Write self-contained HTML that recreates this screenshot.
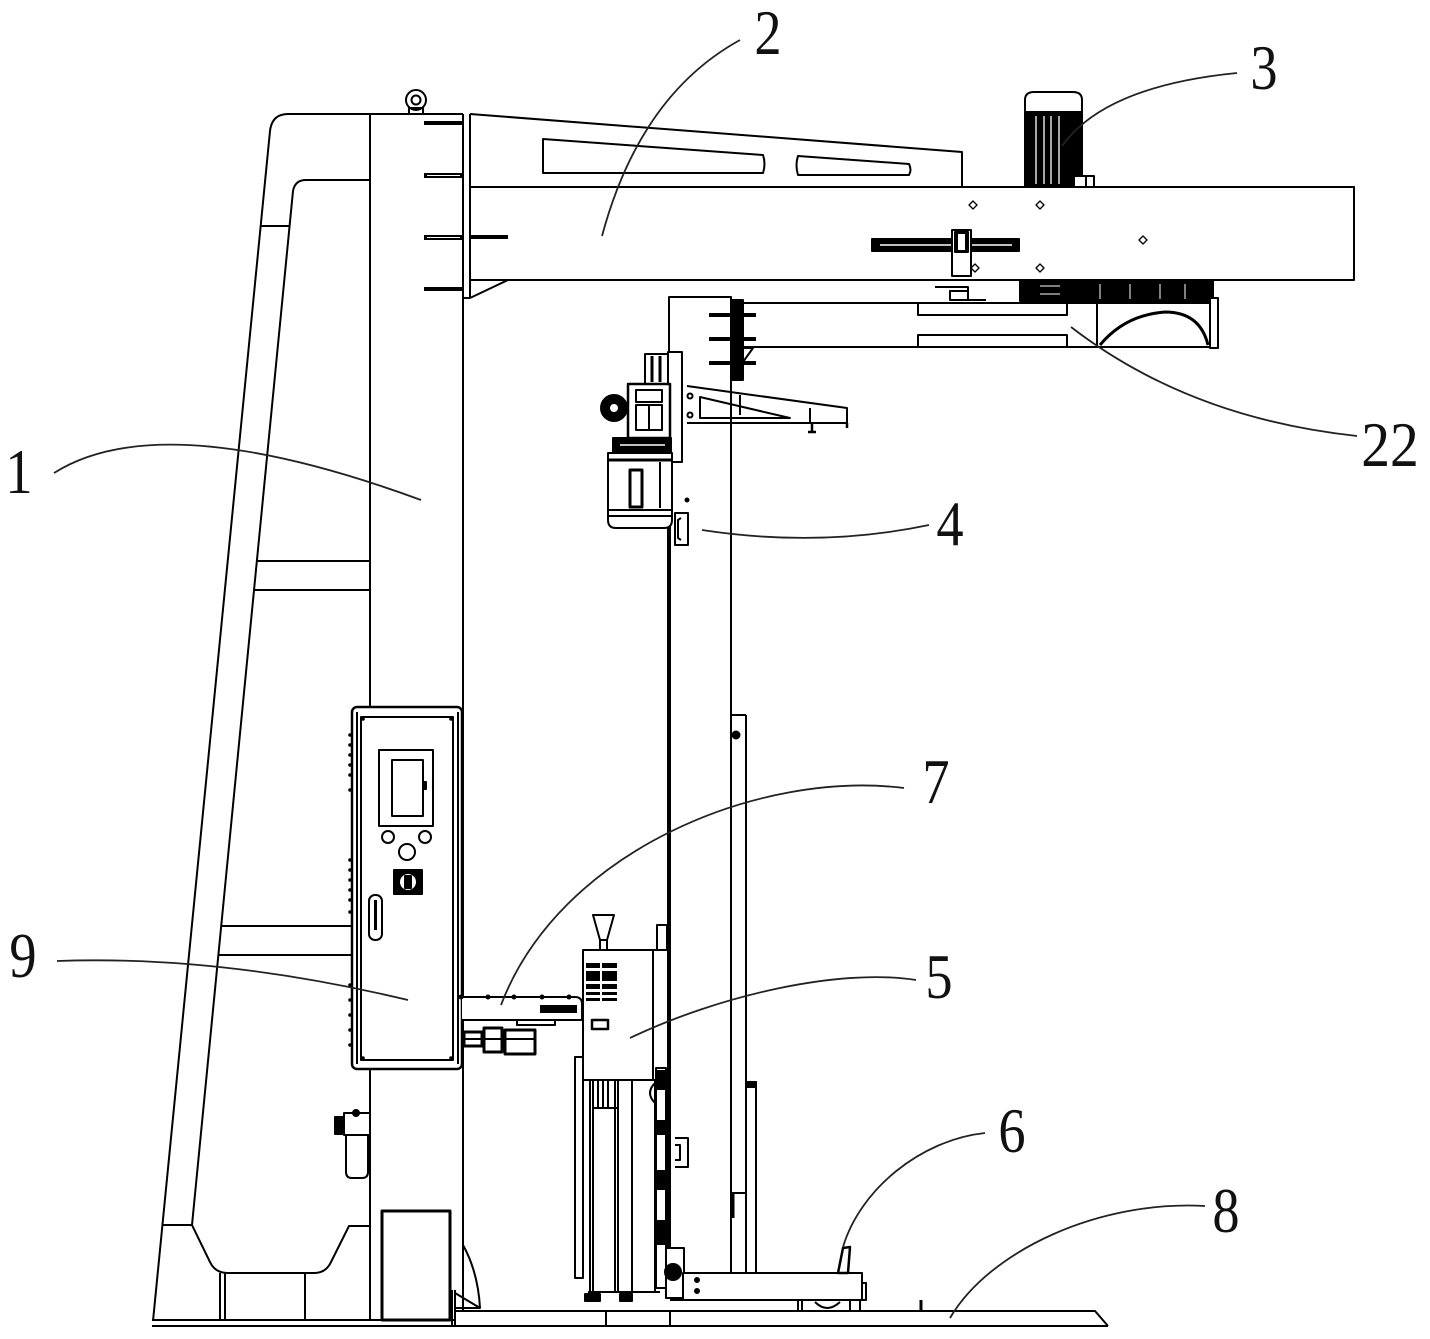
<!DOCTYPE html>
<html><head><meta charset="utf-8"><style>
html,body{margin:0;padding:0;background:#fff;}
svg{display:block;}
text{font-family:"Liberation Serif",serif;font-size:64px;fill:#111;}
</style></head><body>
<svg width="1430" height="1339" viewBox="0 0 1430 1339" xmlns="http://www.w3.org/2000/svg">
<rect width="1430" height="1339" fill="#fff"/>
<g fill="none" stroke="#000" stroke-width="2" stroke-linejoin="round">

<!-- ===== Frame 1 (left structure) ===== -->
<path d="M153 1321 L270 131 Q272 114 288 114 L463 114"/>
<path d="M192 1225 L293 191 Q295 180 306 180 L370 180"/>
<line x1="260" y1="226" x2="289" y2="226"/>
<line x1="257" y1="561" x2="370" y2="561"/>
<line x1="254" y1="590" x2="370" y2="590"/>
<line x1="222" y1="926" x2="352" y2="926"/>
<line x1="219" y1="955" x2="352" y2="955"/>
<line x1="162" y1="1225" x2="192" y2="1225"/>
<path d="M192 1225 L210 1262 Q215 1273 228 1273 L314 1273 Q326 1273 331 1262 L349 1226 L370 1226"/>
<line x1="220" y1="1273" x2="220" y2="1320"/>
<line x1="225" y1="1273" x2="225" y2="1320"/>
<line x1="305" y1="1273" x2="305" y2="1320"/>
<line x1="152" y1="1320" x2="455" y2="1320"/>
<line x1="152" y1="1326" x2="1108" y2="1326"/>
<path d="M455 1311 L1095 1311 L1108 1326"/>
<line x1="606" y1="1311" x2="606" y2="1326"/>
<line x1="670" y1="1311" x2="670" y2="1326"/>
<line x1="921" y1="1300" x2="921" y2="1311" stroke-width="3"/>

<!-- column -->
<line x1="370" y1="114" x2="370" y2="1320"/>
<line x1="463" y1="114" x2="463" y2="1311"/>
<line x1="470" y1="114" x2="470" y2="298"/>
<line x1="463" y1="298" x2="470" y2="298"/>
<path d="M470 114 L962 152 L962 187"/>
<line x1="470" y1="298" x2="508" y2="280"/>
<!-- lifting eye -->
<circle cx="416" cy="100" r="10"/>
<circle cx="416" cy="100" r="4.5"/>
<rect x="409" y="108" width="14" height="6"/>

<!-- bolts -->
<g fill="#000" stroke="none">
<rect x="424" y="121" width="39" height="4"/>
<rect x="424" y="173" width="39" height="5"/>
<rect x="424" y="235" width="39" height="5"/>
<rect x="424" y="287" width="39" height="4"/>
<rect x="470" y="235" width="38" height="4"/>
</g>
<line x1="427" y1="175.5" x2="460" y2="175.5" stroke="#fff" stroke-width="1"/>
<line x1="427" y1="237.5" x2="460" y2="237.5" stroke="#fff" stroke-width="1"/>

<!-- ===== Beam 2 ===== -->
<path d="M470 187 L1354 187 L1354 280 L470 280"/>
<path d="M543 139 L763 155 Q766 164 763 173 L543 173 Z"/>
<path d="M798 156 L909 164 Q912 170 909 175 L798 175 Q795 165 798 156 Z"/>

<!-- motor 3 -->
<path d="M1025 112 L1025 100 Q1025 92 1034 92 L1073 92 Q1082 92 1082 100 L1082 112 Z" fill="#fff"/>
<rect x="1025" y="112" width="57" height="75" fill="#000"/>
<g stroke="#fff" stroke-width="1.3">
<line x1="1036" y1="116" x2="1036" y2="184"/>
<line x1="1044" y1="116" x2="1044" y2="184"/>
<line x1="1051" y1="116" x2="1051" y2="184"/>
<line x1="1059" y1="116" x2="1059" y2="184"/>
</g>
<rect x="1074" y="176" width="20" height="11" fill="#fff"/>
<line x1="1086" y1="176" x2="1086" y2="187"/>

<!-- beam dots -->
<g stroke-width="1.3">
<path d="M973 201 L977 205 L973 209 L969 205 Z"/>
<path d="M1040 201 L1044 205 L1040 209 L1036 205 Z"/>
<path d="M1143 236 L1147 240 L1143 244 L1139 240 Z"/>
<path d="M1040 264 L1044 268 L1040 272 L1036 268 Z"/>
<path d="M975 264 L979 268 L975 272 L971 268 Z"/>
</g>
<!-- slide bar -->
<rect x="872" y="239" width="147" height="12" fill="#000"/>
<line x1="880" y1="245" x2="1012" y2="245" stroke="#fff" stroke-width="1.5"/>
<rect x="952" y="230" width="19" height="46" fill="#fff"/>
<rect x="955" y="232" width="13" height="20" fill="#000"/>
<rect x="958" y="234" width="7" height="16" fill="#fff" stroke="none"/>

<!-- gear below beam -->
<rect x="1020" y="281" width="193" height="20" fill="#000"/>
<g stroke="#fff" stroke-width="1">
<line x1="1040" y1="286" x2="1060" y2="286"/>
<line x1="1040" y1="294" x2="1060" y2="294"/>
<line x1="1100" y1="284" x2="1100" y2="299"/>
<line x1="1130" y1="284" x2="1130" y2="299"/>
<line x1="1160" y1="284" x2="1160" y2="299"/>
<line x1="1185" y1="284" x2="1185" y2="299"/>
</g>
<!-- small bracket -->
<path d="M935 287 L968 287 L968 300 L986 300"/>
<rect x="950" y="291" width="18" height="9"/>

<!-- ===== Lower arm 22 ===== -->
<line x1="743" y1="303" x2="1218" y2="303"/>
<line x1="743" y1="347" x2="1218" y2="347"/>
<rect x="918" y="303" width="149" height="12"/>
<rect x="918" y="335" width="149" height="12"/>
<line x1="1097" y1="303" x2="1097" y2="347"/>
<rect x="1210" y="298" width="8" height="50" fill="#fff"/>
<path d="M1100 345 Q1125 315 1165 312 Q1200 312 1208 345" stroke-width="3"/>

<!-- ===== Mast ===== -->
<path d="M669 380 L669 297 L731 297 L731 1273"/>
<line x1="669" y1="380" x2="669" y2="1288" stroke-width="4"/>
<rect x="732" y="300" width="11" height="80" fill="#000"/>
<g fill="#000" stroke="none">
<rect x="709" y="313" width="47" height="4"/>
<rect x="709" y="337" width="47" height="4"/>
<rect x="709" y="361" width="47" height="4"/>
</g>
<path d="M743 348 L753 348 L743 362"/>
<line x1="746" y1="715" x2="746" y2="1273"/>
<line x1="731" y1="715" x2="746" y2="715"/>
<circle cx="736" cy="735" r="3.5" fill="#000"/>
<rect x="746" y="1082" width="10" height="191"/>
<rect x="746" y="1082" width="10" height="5" fill="#000"/>
<line x1="731" y1="1193" x2="746" y2="1193"/>
<line x1="733" y1="1193" x2="733" y2="1218" stroke-width="3"/>

<!-- carriage: arm bracket -->
<path d="M687 386 L847 408 L847 423 L687 423"/>
<line x1="810" y1="408" x2="810" y2="423"/>
<path d="M700 397 L700 418 L790 418 Z"/>
<line x1="740" y1="395" x2="740" y2="415"/>
<circle cx="690" cy="396" r="2.5"/>
<circle cx="690" cy="415" r="2.5"/>
<path d="M812 423 L812 432 M808 432 L816 432 M847 423 L847 428" stroke-width="2.5"/>
<!-- gearbox -->
<rect x="668" y="352" width="14" height="110" fill="#fff"/>
<rect x="645" y="354" width="23" height="30" fill="#fff"/>
<line x1="652" y1="356" x2="652" y2="382" stroke-width="3"/>
<line x1="660" y1="356" x2="660" y2="382" stroke-width="3"/>
<rect x="628" y="384" width="42" height="54" fill="#fff" stroke-width="2.5"/>
<rect x="636" y="390" width="26" height="12"/>
<rect x="636" y="405" width="26" height="25"/>
<line x1="649" y1="405" x2="649" y2="430"/>
<circle cx="614" cy="408" r="13" fill="#000"/>
<circle cx="614" cy="408" r="5" fill="#fff"/>
<rect x="613" y="438" width="58" height="15" fill="#000"/>
<line x1="620" y1="445" x2="665" y2="445" stroke="#fff" stroke-width="1.5"/>
<!-- carriage motor -->
<path d="M608 453 L672 453 L672 512 L672 520 Q672 528 664 528 L616 528 Q608 528 608 520 Z" fill="#fff"/>
<line x1="608" y1="460" x2="672" y2="460" stroke-width="3"/>
<line x1="608" y1="510" x2="672" y2="510"/>
<line x1="608" y1="516" x2="672" y2="516"/>
<rect x="630" y="470" width="12" height="37" stroke-width="3"/>
<line x1="660" y1="462" x2="660" y2="508"/>
<!-- sensor 4 -->
<rect x="675" y="513" width="13" height="32"/>
<path d="M681 518 L678 520 L678 538 L681 540" stroke-width="2"/>
<circle cx="687" cy="500" r="1.5" fill="#000"/>

<!-- ===== Control box 9 ===== -->
<rect x="352" y="707" width="110" height="362" rx="5" fill="#fff" stroke-width="2.5"/>
<rect x="361" y="717" width="92" height="343"/>
<line x1="357" y1="712" x2="357" y2="1064"/>
<line x1="458" y1="712" x2="458" y2="1064"/>
<g fill="#000" stroke="none">
<circle cx="350" cy="735" r="1.8"/><circle cx="350" cy="745" r="1.8"/><circle cx="350" cy="755" r="1.8"/><circle cx="350" cy="765" r="1.8"/><circle cx="350" cy="775" r="1.8"/><circle cx="350" cy="790" r="1.8"/>
<circle cx="350" cy="860" r="1.8"/><circle cx="350" cy="870" r="1.8"/><circle cx="350" cy="880" r="1.8"/><circle cx="350" cy="890" r="1.8"/><circle cx="350" cy="900" r="1.8"/><circle cx="350" cy="912" r="1.8"/>
<circle cx="350" cy="985" r="1.8"/><circle cx="350" cy="1000" r="1.8"/><circle cx="350" cy="1015" r="1.8"/><circle cx="350" cy="1030" r="1.8"/><circle cx="350" cy="1045" r="1.8"/>
<circle cx="363" cy="719" r="1.8"/><circle cx="451" cy="719" r="1.8"/><circle cx="363" cy="1058" r="1.8"/><circle cx="451" cy="1058" r="1.8"/>
</g>
<rect x="379" y="750" width="54" height="76"/>
<rect x="392" y="760" width="31" height="56"/>
<rect x="423" y="782" width="3" height="7" fill="#000"/>
<circle cx="388" cy="837" r="6"/>
<circle cx="425" cy="837" r="6"/>
<circle cx="407" cy="852" r="8"/>
<rect x="394" y="870" width="28" height="24" fill="#000"/>
<circle cx="408" cy="882" r="8" fill="#fff" stroke="none"/>
<rect x="405" y="876" width="6" height="12" fill="#000"/>
<rect x="369" y="895" width="13" height="45" rx="6"/>
<line x1="375.5" y1="900" x2="375.5" y2="930" stroke-width="3"/>

<!-- ===== Arm 7 ===== -->
<path d="M462 997 L575 997 Q582 997 582 1004 L582 1020 L462 1020" fill="#fff"/>
<g fill="#000" stroke="none">
<circle cx="461" cy="997" r="2.5"/><circle cx="488" cy="997" r="2.5"/><circle cx="514" cy="997" r="2.5"/><circle cx="542" cy="997" r="2.5"/><circle cx="569" cy="997" r="2.5"/>
<rect x="540" y="1005" width="37" height="8"/>
</g>
<rect x="517" y="1020" width="38" height="5"/>
<rect x="464" y="1032" width="18" height="14" stroke-width="3"/>
<rect x="484" y="1028" width="18" height="24" stroke-width="3"/>
<rect x="505" y="1030" width="30" height="24" stroke-width="3"/>
<line x1="465" y1="1039" x2="535" y2="1039" stroke-width="2"/>

<!-- ===== Box 5 ===== -->
<path d="M593 915 L614 915 L607 940 L600 940 Z"/>
<rect x="600" y="940" width="7" height="10"/>
<rect x="583" y="950" width="70" height="130" fill="#fff"/>
<path d="M653 950 L668 950 M653 1080 L668 1080"/>
<rect x="657" y="925" width="10" height="25"/>
<g fill="#000" stroke="none">
<rect x="586" y="963" width="14" height="5"/><rect x="602" y="963" width="15" height="5"/>
<rect x="586" y="971" width="14" height="10"/><rect x="602" y="971" width="15" height="10"/>
<rect x="586" y="984" width="14" height="5"/><rect x="602" y="984" width="15" height="5"/>
<rect x="586" y="992" width="14" height="3"/><rect x="602" y="992" width="15" height="3"/>
<rect x="586" y="998" width="14" height="3"/><rect x="602" y="998" width="15" height="3"/>
</g>
<rect x="592" y="1020" width="16" height="9" stroke-width="2.5"/>
<!-- cylinders below 5 -->
<rect x="575" y="1057" width="8" height="221"/>
<line x1="590" y1="1080" x2="590" y2="1293"/>
<line x1="593" y1="1080" x2="593" y2="1293"/>
<line x1="598" y1="1080" x2="598" y2="1108"/>
<line x1="603" y1="1080" x2="603" y2="1108"/>
<line x1="608" y1="1080" x2="608" y2="1108"/>
<line x1="593" y1="1108" x2="618" y2="1108"/>
<line x1="615" y1="1080" x2="615" y2="1293"/>
<line x1="618" y1="1080" x2="618" y2="1293"/>
<line x1="632" y1="1080" x2="632" y2="1293"/>
<line x1="655" y1="1080" x2="655" y2="1293"/>
<line x1="588" y1="1292" x2="660" y2="1292"/>
<rect x="585" y="1294" width="15" height="7" fill="#000"/>
<rect x="620" y="1294" width="12" height="7" fill="#000"/>
<path d="M655 1083 Q645 1093 655 1103"/>
<!-- chain along mast bottom -->
<rect x="656" y="1068" width="10" height="220"/>
<g fill="#000" stroke="none">
<rect x="657" y="1070" width="8" height="20"/><rect x="657" y="1120" width="8" height="15"/>
<rect x="657" y="1170" width="8" height="20"/><rect x="657" y="1220" width="8" height="25"/>
</g>
<path d="M675 1138 L688 1138 L688 1167 L675 1167 M675 1145 L680 1145 L680 1160 L675 1160"/>
<rect x="666" y="1248" width="18" height="50" fill="#fff"/>
<circle cx="673" cy="1272" r="8" fill="#000"/>
<!-- base platform -->
<rect x="683" y="1273" width="179" height="27" fill="#fff"/>
<circle cx="697" cy="1280" r="2" fill="#000"/>
<circle cx="697" cy="1291" r="2" fill="#000"/>
<rect x="862" y="1283" width="4" height="17"/>
<line x1="670" y1="1300" x2="862" y2="1300"/>
<line x1="798" y1="1300" x2="798" y2="1311"/>
<line x1="802" y1="1300" x2="802" y2="1311"/>
<line x1="850" y1="1300" x2="850" y2="1311"/>
<line x1="860" y1="1300" x2="860" y2="1311"/>
<path d="M815 1302 Q827 1314 840 1302"/>
<!-- pedal 6 -->
<path d="M838 1273 L843 1248 L850 1247 L848 1273 Z" fill="#fff" stroke-width="2.5"/>

<!-- column bottom details -->
<path d="M463 1245 Q478 1272 480 1308 L455 1293"/>
<line x1="452" y1="1290" x2="452" y2="1326"/>
<line x1="455" y1="1290" x2="455" y2="1326"/>
<line x1="455" y1="1308" x2="480" y2="1308"/>
<!-- door -->
<rect x="382" y="1211" width="68" height="109" stroke-width="3"/>
<!-- filter -->
<rect x="335" y="1117" width="9" height="17" fill="#000"/>
<rect x="344" y="1113" width="26" height="22"/>
<path d="M346 1135 L346 1172 Q346 1178 352 1178 L362 1178 Q368 1178 368 1172 L368 1135"/>
<circle cx="356" cy="1113" r="3" fill="#000"/>
</g>

<!-- ===== Leader lines ===== -->
<g fill="none" stroke="#222" stroke-width="1.8">
<path d="M54 473 Q162 405 421 500"/>
<path d="M740 40 Q640 95 602 236"/>
<path d="M1237 73 Q1105 86 1062 146"/>
<path d="M1357 436 Q1189 418 1071 327"/>
<path d="M929 525 Q820 548 702 530"/>
<path d="M904 788 C760 770 560 850 501 1005"/>
<path d="M916 980 C840 968 720 995 630 1038"/>
<path d="M57 961 Q220 955 408 1000"/>
<path d="M985 1133 C920 1140 860 1190 843 1247"/>
<path d="M1205 1206 C1100 1200 990 1250 950 1318"/>
</g>

<!-- ===== Labels ===== -->
<g text-anchor="middle">
<text transform="translate(19,493) scale(0.85,1)">1</text>
<text transform="translate(768,54) scale(0.85,1)">2</text>
<text transform="translate(1264,89) scale(0.85,1)">3</text>
<text transform="translate(1390,466) scale(0.9,1)">22</text>
<text transform="translate(950,545) scale(0.85,1)">4</text>
<text transform="translate(936,803) scale(0.85,1)">7</text>
<text transform="translate(939,998) scale(0.85,1)">5</text>
<text transform="translate(23,977) scale(0.85,1)">9</text>
<text transform="translate(1012,1152) scale(0.85,1)">6</text>
<text transform="translate(1226,1232) scale(0.85,1)">8</text>
</g>
</svg>
</body></html>
